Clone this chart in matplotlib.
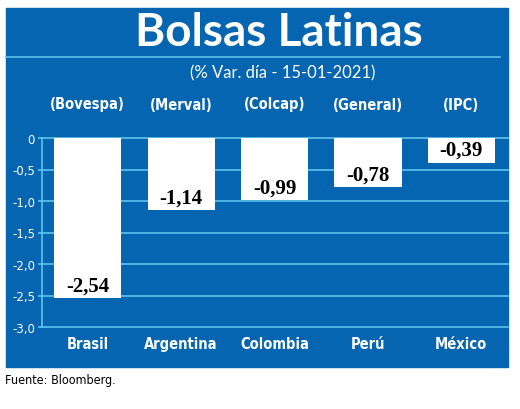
import matplotlib.pyplot as plt
import matplotlib.transforms as mtransforms
from matplotlib.patches import Rectangle
from matplotlib.lines import Line2D

paises = ['Brasil', 'Argentina', 'Colombia', 'Perú', 'México']
indices = ['(Bovespa)', '(Merval)', '(Colcap)', '(General)', '(IPC)']
variacion = [-2.54, -1.14, -0.99, -0.78, -0.39]
yticks = [0, -0.5, -1.0, -1.5, -2.0, -2.5, -3.0]
ytick_labels = ['0', '-0,5', '-1,0', '-1,5', '-2,0', '-2,5', '-3,0']

azul = '#0565b0'
celeste = '#5cc3ee'
narrow = dict(family='DejaVu Sans', fontstretch='condensed')

W, H = 520, 410
fig = plt.figure(figsize=(W / 100, H / 100), dpi=100)


def fx(px):
    return px / W


def fy(py):
    return 1 - py / H


# panel azul de fondo
fig.patches.append(Rectangle((fx(6), fy(368)), fx(508) - fx(6), fy(9) - fy(368),
                             transform=fig.transFigure, color=azul, zorder=-10))
fig.lines.append(Line2D([fx(6), fx(500)], [fy(58), fy(58)], transform=fig.transFigure,
                        color=celeste, lw=1.2, zorder=-5))

fig.text(fx(279), fy(33), 'Bolsas Latinas', color='white', fontsize=33, fontweight='bold',
         family='Lato', ha='center', va='center')
fig.text(fx(283), fy(73), '(% Var. día - 15-01-2021)', color='white', fontsize=12,
         family='Lato', ha='center', va='center')
fig.text(fx(5), fy(381), 'Fuente: Bloomberg.', color='black', fontsize=9,
         ha='left', va='center', **narrow)

ax = fig.add_axes([fx(42), fy(328), fx(508) - fx(42), fy(139) - fy(328)])
ax.set_facecolor('none')
x = list(range(len(paises)))
ax.bar(x, variacion, width=0.72, color='white', zorder=3)
for t in yticks:
    ax.axhline(t, color=celeste, lw=1.2, zorder=1, clip_on=False)
ax.axvline(-0.49, color=celeste, lw=1.2, zorder=1, clip_on=False)

for i, v in enumerate(variacion):
    ax.text(i, v + 0.2, ('%.2f' % v).replace('.', ','), ha='center', va='center',
            fontsize=15, fontweight='bold', family='Liberation Serif', color='black', zorder=4)

ax.set_xlim(-0.49, 4.5)
ax.set_ylim(-3.0, 0)
ax.set_yticks(yticks, ytick_labels)
ax.tick_params(axis='y', colors=celeste, length=3, width=1.2, pad=2, labelcolor='white',
               labelsize=8.5)
ax.tick_params(axis='x', length=0)
ax.set_xticks([])
for s in ax.spines.values():
    s.set_visible(False)

trans_top = mtransforms.blended_transform_factory(ax.transData, fig.transFigure)
for i in x:
    ax.text(i, fy(105), indices[i], transform=trans_top, ha='center', va='center',
            color='white', fontsize=10.5, fontweight='bold', **narrow)
    ax.text(i, fy(345), paises[i], transform=trans_top, ha='center', va='center',
            color='white', fontsize=10.5, fontweight='bold', **narrow)

fig.savefig('out.png', dpi=100)
